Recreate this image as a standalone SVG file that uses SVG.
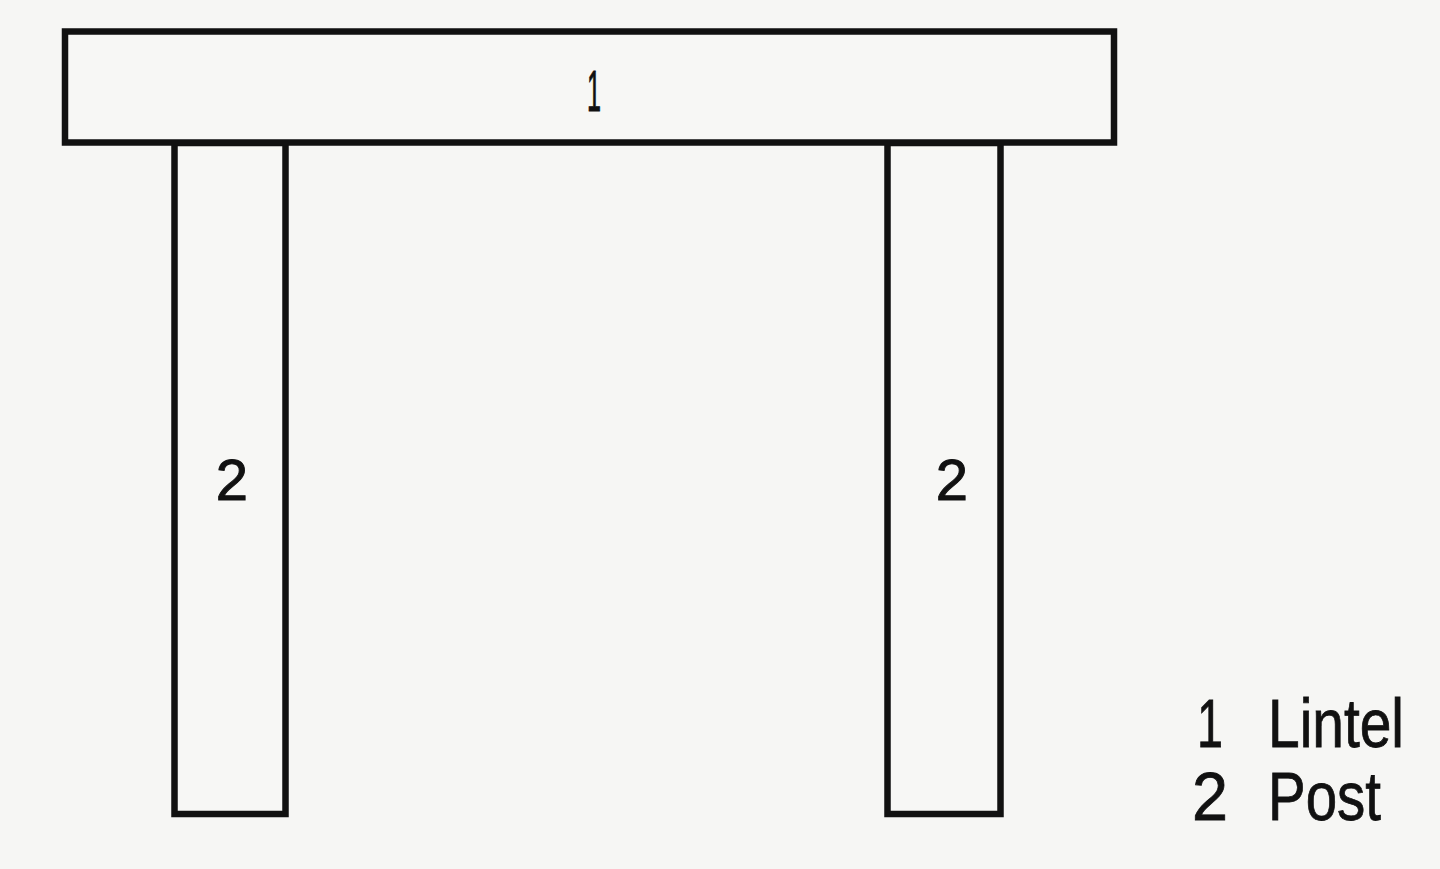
<svg xmlns="http://www.w3.org/2000/svg" width="1440" height="869" viewBox="0 0 1440 869">
<style>
.part{fill:#f7f7f5;stroke:#111;stroke-width:6.5;stroke-linejoin:miter}
.lbl{font-family:"Liberation Sans",Arial,sans-serif;fill:#111;stroke:#111;stroke-width:1;font-size:58px;text-anchor:middle}
.leg{font-family:"Liberation Sans",Arial,sans-serif;fill:#111;stroke:#111;stroke-width:0.8;font-size:68px}
</style>
<rect width="1440" height="869" fill="#f6f6f4"/>
<g id="post-left">
<rect class="part" x="174.5" y="143" width="111" height="671"/>
<text class="lbl" x="232" y="500">2</text>
</g>
<g id="post-right">
<rect class="part" x="887.5" y="143" width="113" height="671"/>
<text class="lbl" x="952" y="500">2</text>
</g>
<g id="lintel">
<rect class="part" x="65" y="31.5" width="1049" height="111"/>
<text class="lbl" x="594" y="111" font-size="60" textLength="14" lengthAdjust="spacingAndGlyphs">1</text>
</g>
<g id="legend">
<text class="leg" x="1197" y="747" textLength="26" lengthAdjust="spacingAndGlyphs">1</text>
<text class="leg" x="1268" y="747" textLength="136" lengthAdjust="spacingAndGlyphs">Lintel</text>
<text class="leg" x="1192" y="820" textLength="36" lengthAdjust="spacingAndGlyphs">2</text>
<text class="leg" x="1268" y="820" textLength="113" lengthAdjust="spacingAndGlyphs">Post</text>
</g>
<g id="connectors"></g>
</svg>
